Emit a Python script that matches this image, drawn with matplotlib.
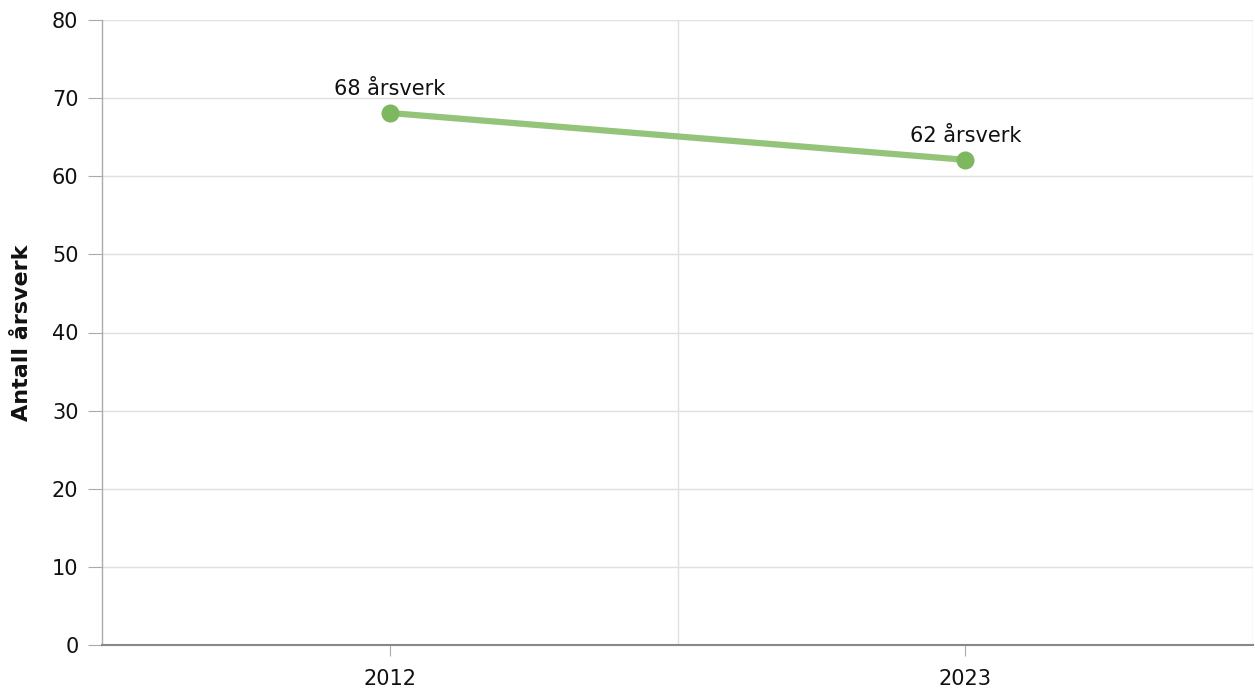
import matplotlib
matplotlib.use("Agg")
import matplotlib.pyplot as plt
from matplotlib.ticker import FixedLocator

years = ["2012", "2023"]
values = [68.1, 62.1]
labels = ["68 årsverk", "62 årsverk"]
ylabel = "Antall årsverk"

plt.rcParams['font.family'] = ['DejaVu Sans']

W, H = 1255, 693
fig = plt.figure(figsize=(W / 100, H / 100), dpi=100)
ax = fig.add_axes([102 / W, 48 / H, (1253 - 102) / W, (645 - 20) / H])

x = list(range(len(years)))
ax.plot(x, values, color="#94c47a", lw=4.5, solid_capstyle="butt", zorder=3)
ax.plot(x, values, "o", color="#7db85e", ms=13, mec="none", zorder=4)
for xi, v, t in zip(x, values, labels):
    ax.annotate(t, (xi, v), xytext=(0, 10), textcoords="offset points",
                ha="center", va="bottom", fontsize=15, color="#111111")

ax.set_xlim(-0.5, len(years) - 0.5)
ax.set_ylim(0, 80)
ax.set_yticks(range(0, 81, 10))
ax.set_xticks(x)
ax.set_xticklabels(years)
ax.xaxis.set_minor_locator(FixedLocator([i + 0.5 for i in x]))
ax.grid(axis="y", which="major", color="#e0e0e0", lw=1)
ax.grid(axis="x", which="minor", color="#e0e0e0", lw=1)
ax.grid(axis="x", which="major", visible=False)
ax.set_axisbelow(True)

for s in ["top", "right"]:
    ax.spines[s].set_visible(False)
ax.spines["left"].set_color("#aaaaaa")
ax.spines["left"].set_linewidth(1)
ax.spines["bottom"].set_color("#888888")
ax.spines["bottom"].set_linewidth(1.5)

ax.tick_params(axis="y", which="major", length=10, color="#aaaaaa", labelsize=15, pad=7, labelcolor="#111111")
ax.tick_params(axis="x", which="major", length=8, color="#aaaaaa", labelsize=15, pad=9, labelcolor="#111111")
ax.tick_params(axis="x", which="minor", length=0)

ax.set_ylabel(ylabel, fontsize=16, fontweight="bold", labelpad=14, color="#111111")

fig.savefig("out.png", dpi=100)
